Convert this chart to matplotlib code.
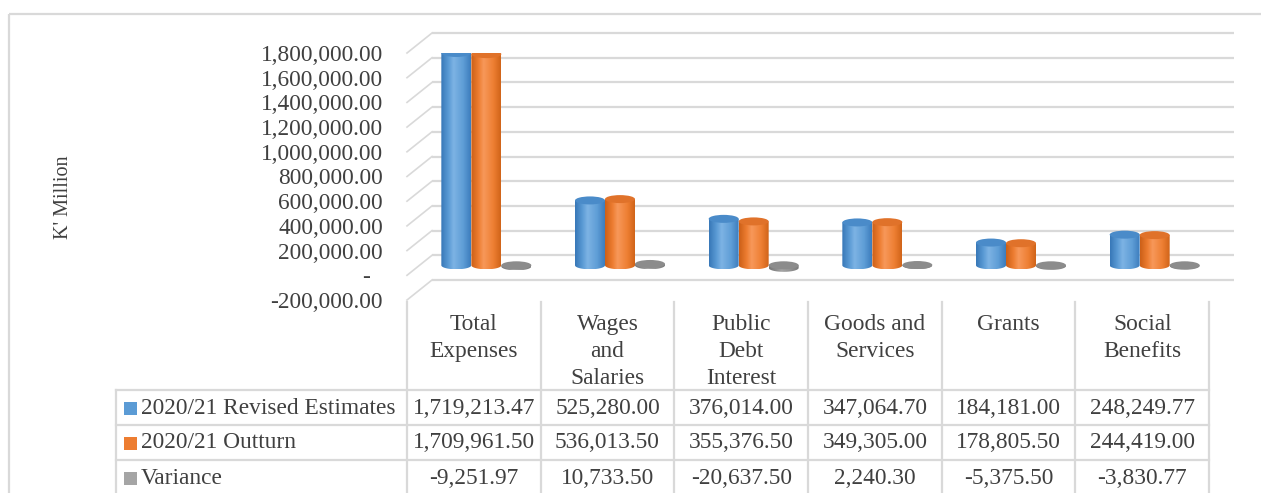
import matplotlib.pyplot as plt
import numpy as np
from matplotlib.patches import Ellipse, Rectangle, Polygon
from matplotlib.colors import LinearSegmentedColormap

plt.rcParams['font.family'] = ['Liberation Serif', 'DejaVu Serif']

# data
categories = ["Total\nExpenses", "Wages\nand\nSalaries", "Public\nDebt\nInterest",
              "Goods and\nServices", "Grants", "Social\nBenefits"]
series_names = ["2020/21 Revised Estimates", "2020/21 Outturn", "Variance"]
revised = [1719213.47, 525280.00, 376014.00, 347064.70, 184181.00, 248249.77]
outturn = [1709961.50, 536013.50, 355376.50, 349305.00, 178805.50, 244419.00]
variance = [-9251.97, 10733.50, -20637.50, 2240.30, -5375.50, -3830.77]
y_ticks = list(range(-200000, 1800001, 200000))

series = [revised, outturn, variance]
key_colors = ["#5B9BD5", "#ED7D31", "#A5A5A5"]
shades = [
    ["#3878B8", "#5B9BD5", "#7DB3E4", "#5E9DD6", "#3D7DBD"],
    ["#CC6018", "#ED7D31", "#F7985A", "#EE7F33", "#D06419"],
    ["#767676", "#8E8E8E", "#A6A6A6", "#909090", "#7A7A7A"],
]
tops = ["#4A8BC9", "#E0722A", "#8C8C8C"]
TXT = "#404040"
GRID = "#D9D9D9"
FS = 16.8

W, H = 1261, 493
fig = plt.figure(figsize=(W / 100, H / 100), dpi=100)

# full-figure axes in pixel units for the frame and data table
bg = fig.add_axes([0, 0, 1, 1])
bg.set_xlim(0, W)
bg.set_ylim(H, 0)
bg.axis('off')

# chart area (front plane of the 3-D box)
x_left, x_right = 407, 1209
y_top, y_bot = 53, 300
ax = fig.add_axes([x_left / W, (H - y_bot) / H, (x_right - x_left) / W, (y_bot - y_top) / H])
ax.patch.set_alpha(0)
for s in ax.spines.values():
    s.set_visible(False)

ncat = len(categories)
xmin, xmax = -0.5, ncat - 0.5
ymin, ymax = y_ticks[0], y_ticks[-1]

ux = (xmax - xmin) / (x_right - x_left)   # data units per pixel
uy = (ymax - ymin) / (y_bot - y_top)
ddx, ddy = 25 * ux, 20 * uy               # depth of the 3-D box

# back wall gridlines and side wall lines
for t in y_ticks:
    ax.plot([xmin + ddx, xmax + ddx], [t + ddy, t + ddy], color=GRID, lw=1.6,
            zorder=1, clip_on=False, solid_capstyle='butt')
    ax.plot([xmin, xmin + ddx], [t, t + ddy], color=GRID, lw=1.2,
            zorder=1, clip_on=False)

bw = 30 * ux
eh = 8 * uy


def draw_cylinder(xc, v, shade, top):
    lo = min(0, v) + ddy / 2
    hi = max(0, v) + ddy / 2
    x0, x1 = xc - bw / 2, xc + bw / 2
    t = np.linspace(np.pi, 2 * np.pi, 40)
    arc = np.column_stack([xc + bw / 2 * np.cos(t), lo + eh / 2 * np.sin(t)])
    verts = np.vstack([[x0, hi], arc, [x1, hi]])
    body = Polygon(verts, closed=True, facecolor='none', edgecolor='none')
    ax.add_patch(body)
    cmap = LinearSegmentedColormap.from_list(
        "c", list(zip([0, 0.25, 0.42, 0.75, 1], shade)))
    img = ax.imshow(np.linspace(0, 1, 64)[None, :], cmap=cmap,
                    extent=(x0, x1, lo - eh / 2, hi), aspect='auto',
                    zorder=3, interpolation='bilinear')
    img.set_clip_path(body)
    ax.add_patch(Ellipse((xc, hi), bw, eh, facecolor=top, edgecolor='none', zorder=4))


for i in range(ncat):
    cx = i + ddx / 2
    for j, vals in enumerate(series):
        draw_cylinder(cx + (j - 1) * bw, vals[i], shades[j], tops[j])

ax.set_xlim(xmin, xmax)
ax.set_ylim(ymin, ymax)
ax.set_xticks([])
tick_labels = ["-  " if t == 0 else f"{t:,.2f}" for t in y_ticks]
ax.set_yticks(y_ticks, tick_labels)
ax.tick_params(axis='y', length=0, pad=17.3, labelsize=FS, labelcolor=TXT)

# outer frame
bg.add_patch(Rectangle((8.5, 13.5), 1300, 600, fill=False, ec=GRID, lw=1.6))

# axis title
bg.text(63, 197, "K' Million", rotation=90, ha='center', va='center',
        fontsize=14.5, color=TXT)

# data table
col_edges = np.linspace(x_left, x_right, ncat + 1)
row_lines = [390, 425, 460]
row_y = [408, 443, 478]
for x in col_edges:
    bg.plot([x, x], [302, H], color=GRID, lw=1.6)
bg.plot([116, 116], [row_lines[0], H], color=GRID, lw=1.6)
for y in row_lines:
    bg.plot([116, x_right], [y, y], color=GRID, lw=1.6)

for i, c in enumerate(categories):
    cx = (col_edges[i] + col_edges[i + 1]) / 2
    bg.text(cx, 314, c, ha='center', va='top', fontsize=FS, color=TXT,
            linespacing=1.36)
    for j, vals in enumerate(series):
        bg.text(cx, row_y[j], f"{vals[i]:,.2f}", ha='center', va='center',
                fontsize=FS, color=TXT)

for j, name in enumerate(series_names):
    bg.add_patch(Rectangle((124, row_y[j] - 6.5), 13, 13, color=key_colors[j], lw=0))
    bg.text(141, row_y[j], name, ha='left', va='center', fontsize=FS, color=TXT)

fig.savefig("out.png", dpi=100)
